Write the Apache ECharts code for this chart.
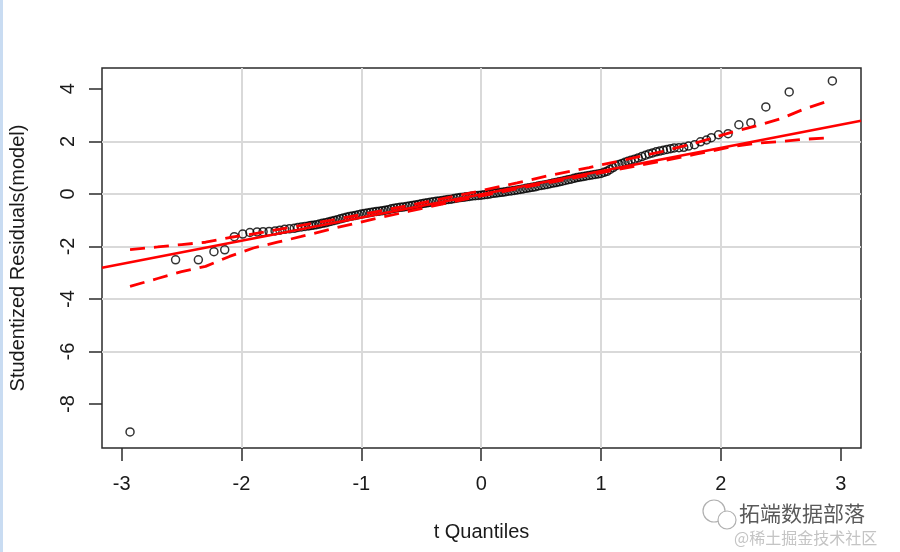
<!DOCTYPE html>
<html>
<head>
<meta charset="utf-8">
<script src="https://cdn.jsdelivr.net/npm/echarts@6/dist/echarts.min.js"></script>
<style>
  html, body { margin: 0; padding: 0; background: #fff; }
  #chart { width: 900px; height: 552px; }
</style>
</head>
<body>
<div id="chart"></div>
<script>
// t quantiles (x) and studentized residuals (y)
const quantiles = [
  -2.93, -2.55, -2.36, -2.23, -2.14, -2.06, -1.99, -1.93, -1.87, -1.82, -1.77, -1.72, -1.68, -1.64,
  -1.60, -1.56, -1.53, -1.50, -1.47, -1.44, -1.42,
  -1.400, -1.375, -1.350, -1.325, -1.300, -1.275, -1.250, -1.225, -1.200, -1.175, -1.150, -1.125,
  -1.100, -1.075, -1.050, -1.025, -1.000, -0.975, -0.950, -0.925, -0.900, -0.875, -0.850, -0.825,
  -0.800, -0.775, -0.750, -0.725, -0.700, -0.675, -0.650, -0.625, -0.600, -0.575, -0.550, -0.525,
  -0.500, -0.475, -0.450, -0.425, -0.400, -0.375, -0.350, -0.325, -0.300, -0.275, -0.250, -0.225,
  -0.200, -0.175, -0.150, -0.125, -0.100, -0.075, -0.050, -0.025, 0.000, 0.025, 0.050, 0.075,
  0.100, 0.125, 0.150, 0.175, 0.200, 0.225, 0.250, 0.275, 0.300, 0.325, 0.350, 0.375,
  0.400, 0.425, 0.450, 0.475, 0.500, 0.525, 0.550, 0.575, 0.600, 0.625, 0.650, 0.675,
  0.700, 0.725, 0.750, 0.775, 0.800, 0.825, 0.850, 0.875, 0.900, 0.925, 0.950, 0.975, 1.000, 1.025,
  1.05, 1.075, 1.10, 1.125, 1.15, 1.175, 1.20, 1.225, 1.25, 1.28, 1.31, 1.34, 1.37, 1.40,
  1.43, 1.46, 1.49, 1.52, 1.55, 1.58, 1.61, 1.65, 1.69, 1.73, 1.78, 1.83, 1.88, 1.92,
  1.98, 2.06, 2.15, 2.25, 2.375, 2.57, 2.93
];
const residuals = [
  -9.06, -2.51, -2.51, -2.20, -2.13, -1.63, -1.53, -1.47, -1.45, -1.44, -1.43, -1.41, -1.38, -1.35,
  -1.33, -1.31, -1.28, -1.26, -1.24, -1.22, -1.20,
  -1.19, -1.17, -1.15, -1.12, -1.10, -1.07, -1.04, -1.01, -0.98, -0.95, -0.92, -0.89,
  -0.86, -0.84, -0.82, -0.79, -0.77, -0.75, -0.73, -0.71, -0.69, -0.67, -0.66, -0.64,
  -0.62, -0.60, -0.57, -0.55, -0.53, -0.51, -0.50, -0.48, -0.46, -0.44, -0.42, -0.40,
  -0.38, -0.36, -0.34, -0.32, -0.30, -0.28, -0.27, -0.25, -0.23, -0.21, -0.20, -0.18,
  -0.16, -0.14, -0.13, -0.11, -0.10, -0.08, -0.07, -0.06, -0.05, -0.03, -0.02, 0.00,
  0.02, 0.03, 0.05, 0.06, 0.08, 0.10, 0.11, 0.13, 0.15, 0.17, 0.19, 0.21,
  0.23, 0.25, 0.27, 0.30, 0.32, 0.34, 0.36, 0.39, 0.41, 0.43, 0.46, 0.48,
  0.51, 0.54, 0.56, 0.59, 0.62, 0.64, 0.66, 0.68, 0.70, 0.72, 0.74, 0.76, 0.78, 0.82,
  0.86, 0.93, 1.00, 1.07, 1.12, 1.16, 1.20, 1.24, 1.28, 1.32, 1.37, 1.42, 1.47, 1.52,
  1.56, 1.60, 1.63, 1.66, 1.69, 1.72, 1.75, 1.76, 1.77, 1.82, 1.87, 1.98, 2.05, 2.14,
  2.25, 2.29, 2.63, 2.71, 3.31, 3.88, 4.30
];

// fitted reference line (ends at the plot edges)
const lineQ = [-3.164, 3.169];
const lineR = [-2.81, 2.78];

// simulated confidence envelope
const envQ = [-2.93, -2.7, -2.5, -2.3, -2.1, -1.9, -1.7, -1.5, -1.2, -0.9, -0.6, -0.3, 0,
  0.3, 0.6, 0.9, 1.2, 1.5, 1.8, 2.1, 2.3, 2.5, 2.7, 2.93];
const envUpper = [-2.12, -2.02, -1.93, -1.84, -1.66, -1.52, -1.36, -1.2, -0.96, -0.7, -0.44, -0.16, 0.12,
  0.42, 0.73, 1.0, 1.3, 1.6, 1.95, 2.36, 2.59, 2.86, 3.24, 3.58];
const envLower = [-3.52, -3.22, -2.96, -2.76, -2.38, -2.06, -1.84, -1.62, -1.28, -0.96, -0.66, -0.36, -0.08,
  0.2, 0.46, 0.72, 0.98, 1.24, 1.52, 1.8, 1.93, 1.99, 2.08, 2.14];

const xTicks = [-3, -2, -1, 0, 1, 2, 3];
const yTicks = [-8, -6, -4, -2, 0, 2, 4];

const font = "'Liberation Sans', Arial, sans-serif";
const pairs = (xs, ys) => xs.map((x, i) => [x, ys[i]]);

const chart = echarts.init(document.getElementById("chart"));

chart.setOption({
  animation: false,
  backgroundColor: "#fff",
  grid: {
    left: 101,
    right: 39,
    top: 68,
    bottom: 104,
    show: true,
    borderColor: "#2b2b2b",
    borderWidth: 1.5,
    backgroundColor: "transparent"
  },
  xAxis: {
    type: "value",
    min: -3.164,
    max: 3.169,
    splitNumber: 6,
    name: "t Quantiles",
    nameLocation: "middle",
    nameGap: 74,
    nameTextStyle: { fontFamily: font, fontSize: 20, color: "#1a1a1a" },
    axisLine: { show: false, onZero: false },
    axisTick: {
      show: true,
      length: 13,
      customValues: xTicks,
      lineStyle: { color: "#2b2b2b", width: 1.5 }
    },
    axisLabel: {
      customValues: xTicks,
      margin: 26,
      fontFamily: font,
      fontSize: 20,
      color: "#1a1a1a"
    },
    splitLine: {
      show: true,
      showMinLine: false,
      showMaxLine: false,
      lineStyle: { color: "#d9d9d9", width: 2 }
    }
  },
  yAxis: {
    type: "value",
    min: -9.67,
    max: 4.79,
    splitNumber: 7,
    name: "Studentized Residuals(model)",
    nameLocation: "middle",
    nameGap: 74,
    nameTextStyle: { fontFamily: font, fontSize: 20, color: "#1a1a1a" },
    axisLine: { show: false, onZero: false },
    axisTick: {
      show: true,
      length: 13,
      customValues: yTicks,
      lineStyle: { color: "#2b2b2b", width: 1.5 }
    },
    axisLabel: {
      customValues: yTicks,
      rotate: 90,
      margin: 24,
      fontFamily: font,
      fontSize: 20,
      color: "#1a1a1a"
    },
    splitLine: {
      show: true,
      showMinLine: false,
      showMaxLine: false,
      lineStyle: { color: "#d9d9d9", width: 2 }
    }
  },
  series: [
    {
      type: "scatter",
      data: pairs(quantiles, residuals),
      symbol: "circle",
      symbolSize: 8,
      itemStyle: { color: "transparent", borderColor: "#000", borderWidth: 1.5 },
      z: 2
    },
    {
      type: "line",
      data: pairs(lineQ, lineR),
      showSymbol: false,
      lineStyle: { color: "#ff0000", width: 2.6 },
      z: 3
    },
    {
      type: "line",
      data: pairs(envQ, envUpper),
      showSymbol: false,
      lineStyle: { color: "#ff0000", width: 2.8, type: [15, 9] },
      z: 3
    },
    {
      type: "line",
      data: pairs(envQ, envLower),
      showSymbol: false,
      lineStyle: { color: "#ff0000", width: 2.8, type: [15, 9] },
      z: 3
    }
  ],
  graphic: [
    { type: "rect", shape: { x: 0, y: 0, width: 3, height: 552 }, style: { fill: "#c9dcf2" } },
    { type: "circle", shape: { cx: 714, cy: 511, r: 11 }, style: { fill: "#fff", stroke: "#b0b0b0", lineWidth: 1.2 } },
    { type: "circle", shape: { cx: 727, cy: 520, r: 9 }, style: { fill: "#fff", stroke: "#b0b0b0", lineWidth: 1.2 } },
    {
      type: "text",
      style: {
        text: "拓端数据部落",
        x: 739,
        y: 513,
        verticalAlign: "middle",
        fill: "#5a5a5a",
        font: "21px 'Noto Sans CJK SC'"
      }
    },
    {
      type: "text",
      style: {
        text: "@稀土掘金技术社区",
        x: 734,
        y: 538,
        verticalAlign: "middle",
        fill: "#c4c4c4",
        font: "16px 'Noto Sans CJK SC'"
      }
    }
  ]
});
</script>
</body>
</html>
